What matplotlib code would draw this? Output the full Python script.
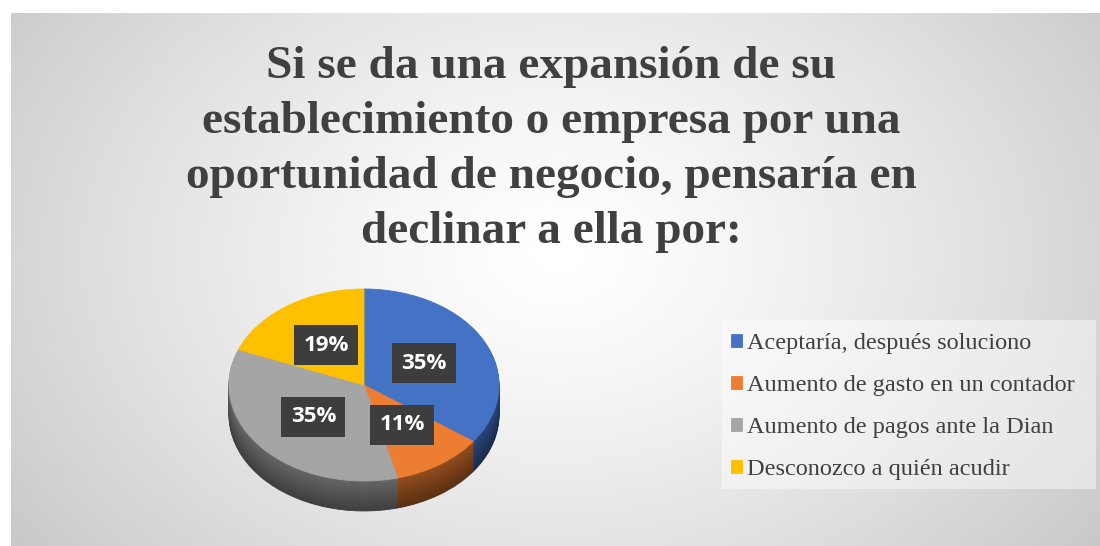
import numpy as np
import matplotlib
matplotlib.use("Agg")
import matplotlib.pyplot as plt
from matplotlib.patches import Rectangle
from matplotlib import colors as mcolors

# datos del gráfico
categorias = ["Aceptaría, después soluciono",
              "Aumento de gasto en un contador",
              "Aumento de pagos ante la Dian",
              "Desconozco a quién acudir"]
porcentajes = [35, 11, 35, 19]
colores = ["#4472C4", "#ED7D31", "#A5A5A5", "#FFC000"]
titulo = ["Si se da una expansión de su",
          "establecimiento o empresa por una",
          "oportunidad de negocio, pensaría en",
          "declinar a ella por:"]

W, H = 1100, 546
fig = plt.figure(figsize=(W / 100, H / 100), dpi=100)
fig.patch.set_facecolor("white")

# fondo con degradado radial
bg = fig.add_axes([0, 0, 1, 1])
bg.set_xlim(0, W)
bg.set_ylim(H, 0)
bg.axis("off")
yy, xx = np.mgrid[0:200, 0:400]
r = np.sqrt(((xx - 200) / 200.0) ** 2 + ((yy - 90) / 150.0) ** 2)
r = np.clip(r / 1.35, 0, 1)
grad = 1.0 - 0.24 * r ** 1.3
bg.imshow(grad, cmap="gray", vmin=0, vmax=1, extent=(11, W, H, 13),
          aspect="auto", zorder=0, interpolation="bicubic")

# título
for i, linea in enumerate(titulo):
    bg.text(551, 78 + 55 * i, linea, ha="center", va="baseline",
            fontsize=34, fontweight="bold", family="Liberation Serif",
            color="#404040", zorder=3)

# caja de la leyenda
bg.add_patch(Rectangle((722, 320), 374, 169, facecolor="white", alpha=0.45,
                       edgecolor="none", zorder=1))

# pastel 3D: capas laterales + cara superior
cx, cy, rx, ry = 364, 385, 135, 96
prof = 30 / ry
left = (cx - 1.3 * rx) / W
ax_w = 2.6 * rx / W
top_px = cy - 1.3 * ry
bot_px = cy + (1.3 + prof) * ry
ax = fig.add_axes([left, 1 - bot_px / H, ax_w, (bot_px - top_px) / H])
ax.patch.set_alpha(0)

capas = 30
for k in range(capas, 0, -1):
    d = prof * k / capas
    f = 0.62 - 0.24 * (k / capas)
    osc = [tuple(np.array(mcolors.to_rgb(c)) * f) for c in colores]
    ws, _ = ax.pie(porcentajes, colors=osc, startangle=90, counterclock=False,
                   center=(0, -d), wedgeprops=dict(linewidth=0.6))
    for w in ws:
        w.set_edgecolor(w.get_facecolor())

wedges, _, autotexts = ax.pie(porcentajes, colors=colores, startangle=90,
                              counterclock=False, center=(0, 0),
                              autopct="%1.0f%%", pctdistance=0.5,
                              wedgeprops=dict(linewidth=0.6),
                              textprops=dict(color="white", fontsize=16,
                                             fontweight="bold",
                                             family="Open Sans"))
for w in wedges:
    w.set_edgecolor(w.get_facecolor())

for t in autotexts:
    t.set_bbox(dict(boxstyle="square,pad=0.42", facecolor="#3d3d3d",
                    edgecolor="none"))

ax.set_aspect("auto")
ax.set_xlim(-1.3, 1.3)
ax.set_ylim(-1.3 - prof, 1.3)
ax.axis("off")

# leyenda
leg = fig.legend(wedges, categorias, loc="upper left",
                 bbox_to_anchor=(731 / W, 1 - 333 / H), frameon=False,
                 prop=dict(family="Liberation Serif", size=17.5),
                 handlelength=0.45, handleheight=0.45, handletextpad=0.2,
                 labelspacing=0.86, borderpad=0, borderaxespad=0)
for t in leg.get_texts():
    t.set_color("#404040")

fig.savefig("out.png", dpi=100)
